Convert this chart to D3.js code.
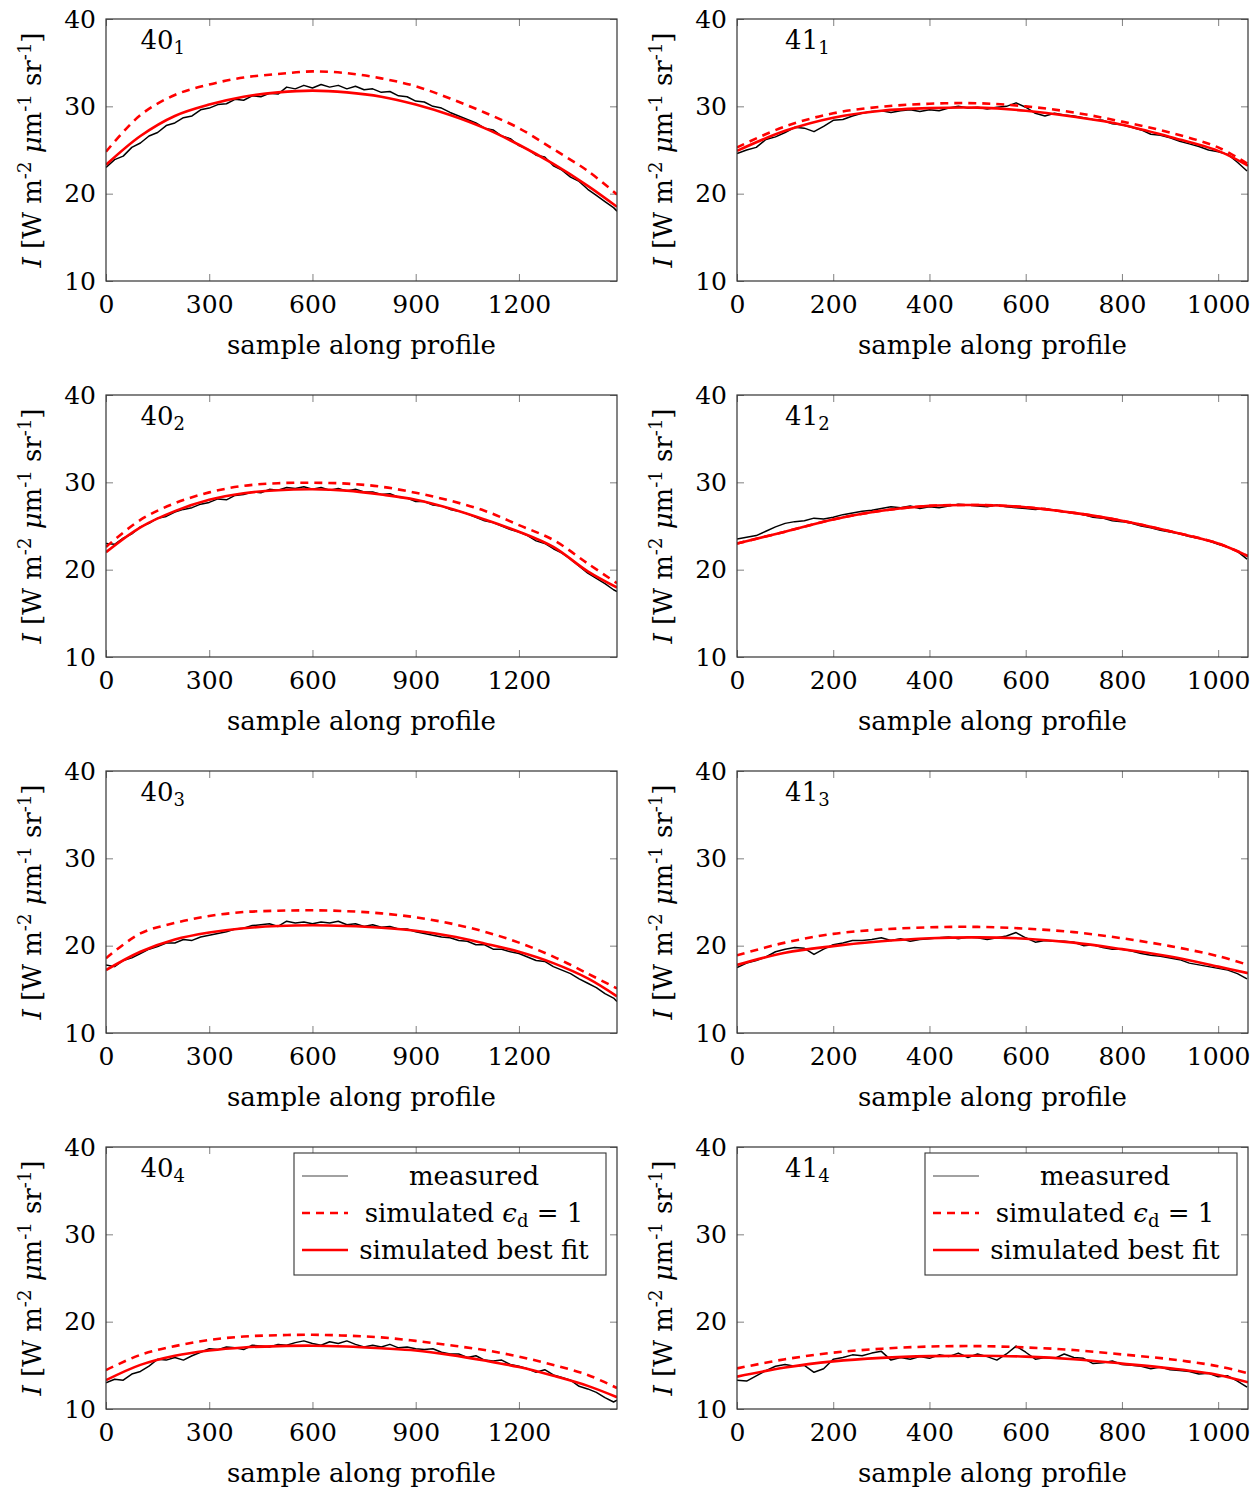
<!DOCTYPE html>
<html>
<head>
<meta charset="utf-8">
<script src="https://cdn.jsdelivr.net/npm/d3@7"></script>
<style>
  html, body { margin: 0; padding: 0; background: #fff; }
  svg { display: block; }
  text { font-family: "DejaVu Serif", serif; fill: #000; }
</style>
</head>
<body>
<svg id="chart" width="1258" height="1492"></svg>
<script>
// ---------- data ----------
const leftXTicks = [0, 300, 600, 900, 1200];
const rightXTicks = [0, 200, 400, 600, 800, 1000];
const yTicks = [10, 20, 30, 40];
const leftXMax = 1485;
const rightXMax = 1062;

const leftFitX = [0,100,200,300,400,500,600,700,800,900,1000,1100,1200,1300,1400,1485];
const rightFitX = [0,100,200,300,400,500,600,700,800,900,1000,1062];
const leftMeasX = [...d3.range(0, 1476, 25), 1485];
const rightMeasX = d3.range(0, 1061, 20);

// profile 40_1
const fit40_1 = [23.3,26.6,28.9,30.2,31.1,31.6,31.8,31.6,31.1,30.2,29.0,27.5,25.6,23.4,20.9,18.5];
const eps40_1 = [24.8,29.0,31.3,32.5,33.3,33.7,34.0,33.8,33.2,32.3,30.9,29.3,27.5,25.1,22.6,19.9];
const meas40_1 = [23.0,23.9,24.3,25.3,25.8,26.6,27.0,27.8,28.1,28.7,
  28.9,29.6,29.8,30.2,30.3,30.8,30.7,31.2,31.1,31.5,
  31.4,32.2,32.0,32.4,32.1,32.5,32.2,32.4,32.0,32.3,
  31.9,32.0,31.6,31.7,31.2,31.1,30.6,30.5,30.0,29.8,
  29.3,28.9,28.5,28.1,27.5,27.3,26.6,26.3,25.5,25.1,
  24.4,24.2,23.2,22.7,21.9,21.4,20.5,19.8,19.1,18.4,18.0];
// profile 41_1
const fit41_1 = [24.9,27.2,28.7,29.5,29.8,29.85,29.5,28.8,27.9,26.5,24.9,23.2];
const eps41_1 = [25.3,27.7,29.2,29.95,30.3,30.35,30.0,29.3,28.25,27.0,25.3,23.4];
const meas41_1 = [24.6,25.0,25.3,26.2,26.5,27.0,27.6,27.5,27.1,27.7,
  28.4,28.5,28.9,29.2,29.4,29.5,29.3,29.5,29.6,29.4,
  29.6,29.5,29.8,30.0,29.8,29.9,29.7,29.9,30.0,30.4,
  29.9,29.2,28.9,29.2,29.0,28.9,28.7,28.5,28.4,28.0,
  27.9,27.6,27.3,26.8,26.7,26.4,26.0,25.7,25.4,25.0,
  24.8,24.5,23.6,22.6];
// profile 40_2
const fit40_2 = [22.0,24.85,26.7,28.0,28.75,29.1,29.2,29.05,28.6,28.0,27.0,25.75,24.35,22.6,19.8,17.95];
const eps40_2 = [22.6,25.7,27.6,28.85,29.6,29.9,29.95,29.85,29.5,28.8,27.9,26.75,25.1,23.4,20.7,18.45];
const meas40_2 = [23.0,22.9,23.6,24.1,24.9,25.3,25.9,26.1,26.6,26.9,
  27.1,27.5,27.7,28.1,28.0,28.5,28.6,28.9,28.8,29.2,
  29.1,29.4,29.3,29.5,29.2,29.4,29.1,29.3,29.0,29.2,
  28.9,28.9,28.6,28.7,28.3,28.2,27.8,27.8,27.4,27.3,
  26.9,26.7,26.4,26.0,25.6,25.4,25.0,24.6,24.3,23.9,
  23.3,23.0,22.4,21.9,21.2,20.4,19.6,19.0,18.4,17.7,17.5];
// profile 41_2
const fit41_2 = [23.0,24.35,25.75,26.75,27.3,27.4,27.15,26.5,25.6,24.4,23.0,21.55];
const eps41_2 = [23.0,24.35,25.75,26.75,27.3,27.4,27.15,26.5,25.6,24.4,23.0,21.55];
const meas41_2 = [23.5,23.7,23.9,24.4,24.9,25.3,25.5,25.6,25.9,25.8,
  26.0,26.3,26.5,26.7,26.8,27.0,27.2,27.1,27.3,27.0,
  27.2,27.1,27.3,27.5,27.4,27.3,27.2,27.4,27.2,27.1,
  27.0,26.9,27.0,26.8,26.6,26.5,26.3,26.0,25.9,25.6,
  25.5,25.3,25.0,24.8,24.5,24.3,24.1,23.8,23.6,23.3,
  22.9,22.6,22.1,21.2];
// profile 40_3
const fit40_3 = [17.2,19.3,20.7,21.5,22.0,22.25,22.33,22.25,22.05,21.7,21.1,20.25,19.3,18.0,16.25,14.2];
const eps40_3 = [18.55,21.4,22.6,23.4,23.85,24.0,24.05,23.95,23.7,23.25,22.55,21.6,20.35,18.75,16.8,15.1];
const meas40_3 = [17.8,17.6,18.3,18.6,19.1,19.6,19.9,20.3,20.3,20.7,
  20.6,21.0,21.2,21.4,21.6,21.9,22.0,22.3,22.4,22.5,
  22.2,22.8,22.6,22.7,22.5,22.7,22.6,22.8,22.4,22.5,
  22.2,22.4,22.1,22.2,21.9,21.9,21.6,21.4,21.2,21.0,
  20.9,20.6,20.5,20.1,20.1,19.6,19.6,19.3,19.1,18.7,
  18.3,18.2,17.6,17.2,16.8,16.2,15.7,15.2,14.5,14.0,13.6];
// profile 41_3
const fit41_3 = [17.8,19.2,19.95,20.5,20.85,20.95,20.8,20.35,19.6,18.75,17.6,16.85];
const eps41_3 = [18.9,20.35,21.35,21.85,22.1,22.15,21.95,21.55,20.85,19.95,18.8,17.8];
const meas41_3 = [17.5,18.0,18.3,18.7,19.3,19.6,19.8,19.7,19.0,19.6,
  20.1,20.3,20.6,20.6,20.7,20.9,20.6,20.8,20.5,20.7,
  20.8,20.9,21.0,20.8,21.0,20.9,20.7,20.9,21.1,21.5,
  20.9,20.4,20.6,20.5,20.5,20.4,20.0,20.1,19.8,19.6,
  19.6,19.4,19.1,18.9,18.8,18.6,18.4,18.0,17.8,17.6,
  17.4,17.2,16.8,16.2];
// profile 40_4
const fit40_4 = [13.3,15.05,16.1,16.7,17.05,17.2,17.25,17.15,16.95,16.7,16.2,15.55,14.8,13.8,12.65,11.35];
const eps40_4 = [14.45,16.2,17.2,17.9,18.3,18.45,18.5,18.4,18.2,17.8,17.3,16.75,16.0,15.05,13.9,12.4];
const meas40_4 = [13.0,13.4,13.3,14.0,14.3,14.9,15.7,15.6,15.9,15.6,
  16.1,16.5,16.9,16.8,17.1,17.0,16.8,17.3,17.2,17.1,
  17.4,17.3,17.6,17.8,17.5,17.3,17.7,17.5,17.8,17.4,
  17.1,17.3,17.1,17.4,17.0,17.1,16.9,16.8,16.9,16.5,
  16.3,16.3,15.9,16.1,15.6,15.5,15.6,15.1,14.9,14.6,
  14.2,14.5,13.9,13.6,13.3,12.6,12.3,11.9,11.3,10.8,11.0];
// profile 41_4
const fit41_4 = [13.7,14.75,15.45,15.85,16.05,16.1,16.0,15.7,15.2,14.65,13.9,13.05];
const eps41_4 = [14.65,15.7,16.45,16.9,17.15,17.2,17.05,16.75,16.25,15.7,14.9,14.1];
const meas41_4 = [13.3,13.2,13.8,14.4,14.9,15.1,14.9,15.0,14.2,14.6,
  15.7,15.9,16.2,16.1,16.4,16.6,15.6,15.9,15.7,16.0,
  15.8,16.2,16.0,16.4,15.9,16.3,16.0,15.6,16.3,17.2,
  16.5,15.7,15.9,15.8,16.3,15.9,15.8,15.2,15.3,15.5,
  15.1,15.0,14.9,14.6,14.8,14.5,14.4,14.3,14.0,14.1,
  13.7,13.8,13.2,12.5];

const legendLabels = ["measured", "simulated", "simulated best fit"];

// ---------- panels ----------
const panels = [
  {name:"40", sub:"1", col:0, row:0, fit:fit40_1, eps:eps40_1, meas:meas40_1},
  {name:"41", sub:"1", col:1, row:0, fit:fit41_1, eps:eps41_1, meas:meas41_1},
  {name:"40", sub:"2", col:0, row:1, fit:fit40_2, eps:eps40_2, meas:meas40_2},
  {name:"41", sub:"2", col:1, row:1, fit:fit41_2, eps:eps41_2, meas:meas41_2},
  {name:"40", sub:"3", col:0, row:2, fit:fit40_3, eps:eps40_3, meas:meas40_3},
  {name:"41", sub:"3", col:1, row:2, fit:fit41_3, eps:eps41_3, meas:meas41_3},
  {name:"40", sub:"4", col:0, row:3, fit:fit40_4, eps:eps40_4, meas:meas40_4, legend:true},
  {name:"41", sub:"4", col:1, row:3, fit:fit41_4, eps:eps41_4, meas:meas41_4, legend:true}
];

const svg = d3.select("#chart");
svg.append("rect").attr("width", 1258).attr("height", 1492).attr("fill", "#fff");

const FONT = "DejaVu Serif";
const colX = [106, 737];
const rowY = [19, 395, 771, 1147];
const W = 511, H = 262;
const TFS = 25;   // tick labels
const FS = 26;    // labels
const SFS = 18;   // sub/superscripts
const RED = "#ff0000";

panels.forEach((p, i) => {
  const x0 = colX[p.col], y0 = rowY[p.row];
  const left = p.col === 0;
  const xMax = left ? leftXMax : rightXMax;
  const fitX = left ? leftFitX : rightFitX;
  const measX = left ? leftMeasX : rightMeasX;
  const xTicks = left ? leftXTicks : rightXTicks;

  const x = d3.scaleLinear().domain([0, xMax]).range([x0, x0 + W]);
  const y = d3.scaleLinear().domain([10, 40]).range([y0 + H, y0]);

  const g = svg.append("g");
  const clipId = "clip" + i;
  g.append("clipPath").attr("id", clipId).append("rect")
    .attr("x", x0).attr("y", y0).attr("width", W).attr("height", H);

  // axes (inward ticks)
  const tickColor = "#808080";
  const ax = (sel) => {
    sel.attr("font-family", FONT).attr("font-size", TFS);
    sel.select(".domain").remove();
    sel.selectAll(".tick line").attr("stroke", tickColor).attr("stroke-width", 1);
    sel.selectAll("text").attr("font-family", FONT).attr("font-size", TFS).attr("fill", "#000");
  };
  g.append("g").attr("transform", `translate(0,${y0 + H})`)
    .call(d3.axisBottom(x).tickValues(xTicks).tickSize(-7).tickPadding(14).tickFormat(d3.format("d")))
    .call(ax);
  g.append("g").attr("transform", `translate(0,${y0})`)
    .call(d3.axisTop(x).tickValues(xTicks).tickSize(-7).tickFormat(""))
    .call(ax);
  g.append("g").attr("transform", `translate(${x0},0)`)
    .call(d3.axisLeft(y).tickValues(yTicks).tickSize(-7).tickPadding(10).tickFormat(d3.format("d")))
    .call(ax);
  g.append("g").attr("transform", `translate(${x0 + W},0)`)
    .call(d3.axisRight(y).tickValues(yTicks).tickSize(-7).tickFormat(""))
    .call(ax);

  // data lines
  const plot = g.append("g").attr("clip-path", `url(#${clipId})`);
  const lineRaw = d3.line().x(d => x(d[0])).y(d => y(d[1]));
  const lineSmooth = d3.line().x(d => x(d[0])).y(d => y(d[1])).curve(d3.curveCatmullRom.alpha(0.5));

  plot.append("path").datum(measX.map((s, k) => [s, p.meas[k]]))
    .attr("d", lineRaw).attr("fill", "none").attr("stroke", "#000").attr("stroke-width", 1.5)
    .attr("stroke-linejoin", "round");
  plot.append("path").datum(fitX.map((s, k) => [s, p.eps[k]]))
    .attr("d", lineSmooth).attr("fill", "none").attr("stroke", RED).attr("stroke-width", 2.6)
    .attr("stroke-dasharray", "8,6");
  plot.append("path").datum(fitX.map((s, k) => [s, p.fit[k]]))
    .attr("d", lineSmooth).attr("fill", "none").attr("stroke", RED).attr("stroke-width", 2.6);

  // frame
  g.append("rect").attr("x", x0).attr("y", y0).attr("width", W).attr("height", H)
    .attr("fill", "none").attr("stroke", "#333").attr("stroke-width", 1.2);

  // panel label
  const lab = g.append("text").attr("x", x(100)).attr("y", y0 + 30)
    .attr("font-family", FONT).attr("font-size", FS);
  lab.append("tspan").text(p.name);
  lab.append("tspan").attr("font-size", SFS).attr("dy", 5).text(p.sub);

  // x label
  g.append("text").attr("x", x0 + W / 2).attr("y", y0 + 335).attr("text-anchor", "middle")
    .attr("font-family", FONT).attr("font-size", FS).text("sample along profile");

  // y label
  const yl = g.append("text")
    .attr("transform", `translate(${x0 - 65},${y0 + H / 2}) rotate(-90)`)
    .attr("text-anchor", "middle").attr("font-family", FONT).attr("font-size", FS);
  yl.append("tspan").attr("font-style", "italic").text("I");
  yl.append("tspan").text(" [W m");
  yl.append("tspan").attr("font-size", SFS).attr("dy", -10).text("-2");
  yl.append("tspan").attr("dy", 10).text(" ");
  yl.append("tspan").attr("font-style", "italic").text("μ");
  yl.append("tspan").text("m");
  yl.append("tspan").attr("font-size", SFS).attr("dy", -10).text("-1");
  yl.append("tspan").attr("dy", 10).text(" sr");
  yl.append("tspan").attr("font-size", SFS).attr("dy", -10).text("-1");
  yl.append("tspan").attr("dy", 10).text("]");

  // legend
  if (p.legend) {
    const lx = x0 + W - 11 - 312, ly = y0 + 6;
    const lg = g.append("g");
    lg.append("rect").attr("x", lx).attr("y", ly).attr("width", 312).attr("height", 122)
      .attr("fill", "#fff").attr("stroke", "#333").attr("stroke-width", 1.1);
    const rows = [ly + 23, ly + 60, ly + 97];
    const sx0 = lx + 8, sx1 = lx + 54, tx = lx + 180;
    lg.append("line").attr("x1", sx0).attr("x2", sx1).attr("y1", rows[0]).attr("y2", rows[0])
      .attr("stroke", "#444").attr("stroke-width", 1.1);
    lg.append("line").attr("x1", sx0).attr("x2", sx1).attr("y1", rows[1]).attr("y2", rows[1])
      .attr("stroke", RED).attr("stroke-width", 2.6).attr("stroke-dasharray", "8,6");
    lg.append("line").attr("x1", sx0).attr("x2", sx1).attr("y1", rows[2]).attr("y2", rows[2])
      .attr("stroke", RED).attr("stroke-width", 2.6);
    lg.append("text").attr("x", tx).attr("y", rows[0] + 9).attr("text-anchor", "middle")
      .attr("font-family", FONT).attr("font-size", FS).text(legendLabels[0]);
    const t2 = lg.append("text").attr("x", tx).attr("y", rows[1] + 9).attr("text-anchor", "middle")
      .attr("font-family", FONT).attr("font-size", FS);
    t2.append("tspan").text(legendLabels[1] + " ");
    t2.append("tspan").attr("font-style", "italic").text("ϵ");
    t2.append("tspan").attr("font-size", SFS).attr("dy", 5).text("d");
    t2.append("tspan").attr("dy", -5).text(" = 1");
    lg.append("text").attr("x", tx).attr("y", rows[2] + 9).attr("text-anchor", "middle")
      .attr("font-family", FONT).attr("font-size", FS).text(legendLabels[2]);
  }
});
</script>
</body>
</html>
